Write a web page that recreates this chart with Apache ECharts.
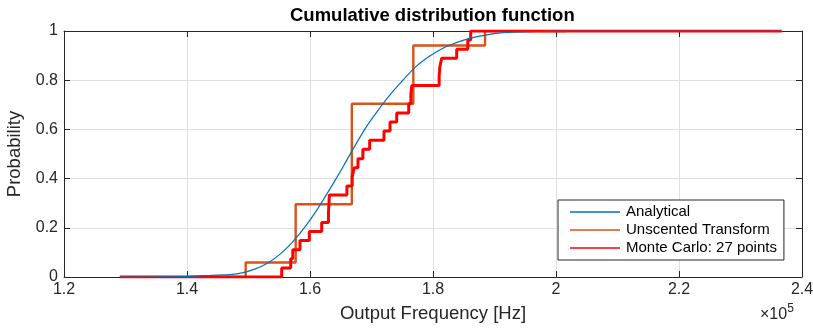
<!DOCTYPE html>
<html><head><meta charset="utf-8">
<script src="https://cdn.jsdelivr.net/npm/echarts@6/dist/echarts.min.js"></script>
<style>html,body{margin:0;padding:0;background:#fff}#c{width:813px;height:329px}</style>
</head><body><div id="c"></div>
<script>
// Frequencies in units of 1e5 Hz
const analyticalX = [1.29, 1.35, 1.40, 1.44, 1.47, 1.49, 1.51, 1.53, 1.55, 1.57, 1.59, 1.61, 1.63, 1.65, 1.67, 1.69, 1.71, 1.73, 1.75, 1.77, 1.79, 1.81, 1.83, 1.85, 1.87, 1.89, 1.91, 1.94, 1.97, 2.00, 2.05, 2.367];
const analyticalP = [0.0, 0.0003, 0.002, 0.007, 0.010, 0.017, 0.032, 0.055, 0.090, 0.138, 0.198, 0.268, 0.348, 0.432, 0.520, 0.604, 0.675, 0.740, 0.797, 0.850, 0.890, 0.922, 0.945, 0.963, 0.976, 0.985, 0.992, 0.996, 0.998, 0.9995, 1.0, 1.0];

const utX = [1.421, 1.4954, 1.5767, 1.668, 1.768, 1.8846, 2.017];
const utP = [0, 0.059, 0.296, 0.704, 0.941, 1.0, 1.0];

const mcX = [1.291, 1.554, 1.5686, 1.5720, 1.5837, 1.5989, 1.619, 1.6300, 1.6308, 1.6314, 1.660, 1.6686, 1.6718, 1.678, 1.686, 1.697, 1.7203, 1.7301, 1.741, 1.7605, 1.7640, 1.7655, 1.8100, 1.8110, 1.8141, 1.8385, 1.8566, 1.8613, 2.367];
const mcP = [0, 0.037, 0.074, 0.111, 0.148, 0.185, 0.222, 0.259, 0.296, 0.333, 0.370, 0.407, 0.444, 0.481, 0.519, 0.556, 0.593, 0.630, 0.667, 0.704, 0.741, 0.778, 0.815, 0.852, 0.889, 0.926, 0.963, 1.0, 1.0];

const seriesNames = ['Analytical', 'Unscented Transform', 'Monte Carlo: 27 points'];
const titleText = 'Cumulative distribution function';
const xName = 'Output Frequency [Hz]';
const yName = 'Probability';

const zip = (a, b) => a.map((v, i) => [v, b[i]]);
const FONT = 'Liberation Sans, Arial, Helvetica, sans-serif';
const AX = '#262626';

const chart = echarts.init(document.getElementById('c'), null, {renderer: 'canvas'});
const baseX = {
  type: 'value', min: 1.2, max: 2.4, interval: 0.2,
  axisLine: {show: true, onZero: false, lineStyle: {color: AX, width: 1}},
  axisTick: {show: true, inside: true, length: 6, lineStyle: {color: AX}},
  splitLine: {show: false}
};
const baseY = {
  type: 'value', min: 0, max: 1, interval: 0.2,
  axisLine: {show: true, onZero: false, lineStyle: {color: AX, width: 1}},
  axisTick: {show: true, inside: true, length: 6, lineStyle: {color: AX}},
  splitLine: {show: false}
};
chart.setOption({
  animation: false,
  backgroundColor: '#fff',
  grid: {left: 64, right: 11, top: 31, bottom: 52, containLabel: false, outerBoundsMode: 'none'},
  xAxis: [
    Object.assign({}, baseX, {
      position: 'bottom',
      axisLabel: {show: true, color: AX, fontSize: 16, fontFamily: FONT, margin: 5},
      splitLine: {show: true, lineStyle: {color: '#dfdfdf', width: 1}},
      name: xName, nameLocation: 'middle', nameGap: 27,
      nameTextStyle: {color: AX, fontSize: 18.5, fontFamily: FONT}
    }),
    Object.assign({}, baseX, {position: 'top', axisLabel: {show: false}})
  ],
  yAxis: [
    Object.assign({}, baseY, {
      position: 'left',
      axisLabel: {show: true, color: AX, fontSize: 16, fontFamily: FONT, margin: 6},
      splitLine: {show: true, lineStyle: {color: '#dfdfdf', width: 1}},
      name: yName, nameLocation: 'middle', nameGap: 28,
      nameTextStyle: {color: AX, fontSize: 18.5, fontFamily: FONT}
    }),
    Object.assign({}, baseY, {position: 'right', axisLabel: {show: false}})
  ],
  legend: {
    orient: 'vertical', left: 558, top: 200,
    padding: [3, 7, 3, 12], itemWidth: 50, itemHeight: 1.6, itemGap: 0,
    icon: 'rect',
    backgroundColor: '#fff', borderColor: AX, borderWidth: 1, borderRadius: 0,
    selectedMode: false,
    textStyle: {fontSize: 15, fontFamily: FONT, color: '#000', lineHeight: 18, padding: [0, 0, 0, 1]},
    data: seriesNames
  },
  graphic: [
    {type: 'text', left: 433 - 143, top: 6, style: {text: titleText, font: 'bold 18.5px ' + FONT, fill: '#000'}},
    {type: 'text', left: 760, top: 303, style: {
      text: '{a|×10}{s|5}', fill: AX,
      rich: {a: {fontSize: 16, fontFamily: FONT, color: AX, verticalAlign: 'bottom', lineHeight: 20},
             s: {fontSize: 12, fontFamily: FONT, color: AX, verticalAlign: 'top', lineHeight: 20, padding: [0,0,8,0]}}
    }}
  ],
  series: [
    {name: seriesNames[0], type: 'line', data: zip(analyticalX, analyticalP), symbol: 'none', smooth: 0.2,
     lineStyle: {color: '#0072BD', width: 1.2}, itemStyle: {color: '#0072BD'}, z: 4},
    {name: seriesNames[1], type: 'line', data: zip(utX, utP), symbol: 'none', step: 'end',
     lineStyle: {color: '#D95319', width: 2.4}, itemStyle: {color: '#D95319'}, z: 2},
    {name: seriesNames[2], type: 'line', data: zip(mcX, mcP), symbol: 'none', step: 'end',
     lineStyle: {color: '#FF0000', width: 3}, itemStyle: {color: '#FF0000'}, z: 3}
  ]
});
</script></body></html>
